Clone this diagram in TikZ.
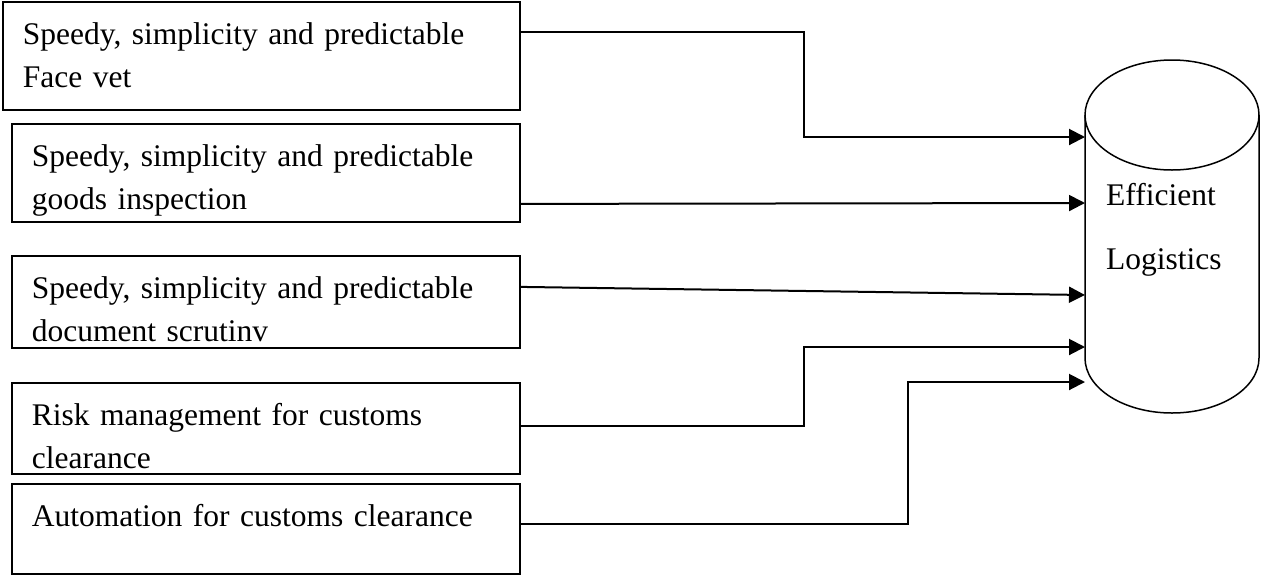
\documentclass[tikz,border=0pt]{standalone}
\usepackage{fontspec}
\setmainfont{Liberation Serif}
\usetikzlibrary{arrows.meta}
\tikzset{
  factor/.style={draw, line width=1.8pt, anchor=north west, align=left,
    inner xsep=20pt, inner ysep=0pt, text width=468pt, minimum width=508pt,
    text height=42.5pt, font=\fontsize{31.5}{43}\selectfont},
  feed/.style={line width=2pt, -{Triangle[length=16pt,width=16pt]}}
}

\begin{document}
\begin{tikzpicture}[x=1pt,y=1pt]
		%%%%% START %%%%%
		\useasboundingbox (0,0) rectangle (1261,-574);
		
		\node[factor, text width=477pt, minimum width=517pt, text depth=65.5pt] (vet) at (2,-1)
		  {Speedy, simplicity and predictable\\Face vet};
		\node[factor, text depth=55.5pt] (goods) at (11,-123)
		  {Speedy, simplicity and predictable\\goods inspection};
		\node[factor, text depth=49.5pt] (docs) at (11,-255)
		  {Speedy, simplicity and predictable\\document scrutinv};
		\node[factor, text depth=48.5pt] (risk) at (11,-382)
		  {Risk management for customs\\clearance};
		\node[factor, text depth=47.5pt] (auto) at (11,-483)
		  {Automation for customs clearance};
		
		\draw[line width=1.5pt] (1172,-115) ellipse (87 and 55);
		\draw[line width=1.5pt] (1085,-115) -- (1085,-358) arc (180:360:87 and 55) -- (1259,-115);
		\node[anchor=north west, align=left, inner sep=0pt, font=\fontsize{31.5}{64}\selectfont] (logis) at (1106,-183)
		  {Efficient\\Logistics};
		
		\coordinate (in1) at (1085,-137);
		\coordinate (in2) at (1085,-203);
		\coordinate (in3) at (1085,-295);
		\coordinate (in4) at (1085,-347);
		\coordinate (in5) at (1085,-382);
		
		\draw[feed] ([yshift=24pt]vet.east) -- ++(283,0) |- (in1);
		\draw[feed] ([yshift=-31pt]goods.east) -- (in2);
		\draw[feed] ([yshift=15pt]docs.east) -- (in3);
		\draw[feed] ([yshift=2pt]risk.east) -- ++(283,0) |- (in4);
		\draw[feed] ([yshift=5pt]auto.east) -- ++(387,0) |- (in5);
		%%%%% END %%%%%
\end{tikzpicture}
\end{document}
